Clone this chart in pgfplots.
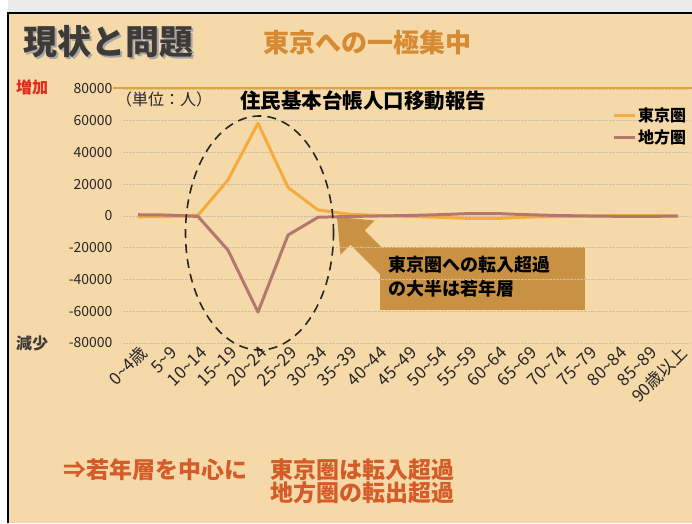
\documentclass[border=0pt]{standalone}
\usepackage{fontspec}
\setmainfont{Noto Sans CJK JP}
\usepackage{pgfplots}
\pgfplotsset{compat=1.18}
\definecolor{bg}{RGB}{246,217,168}
\definecolor{tokyo}{RGB}{245,172,60}
\definecolor{chiho}{RGB}{178,120,110}
\definecolor{titlec}{RGB}{62,58,56}
\definecolor{subc}{RGB}{214,138,50}
\definecolor{redc}{RGB}{225,45,30}
\definecolor{bottomc}{RGB}{212,92,40}
\definecolor{boxc}{RGB}{200,145,68}
\definecolor{gridc}{RGB}{205,190,168}
\definecolor{linec}{RGB}{232,160,70}
\begin{document}
\begin{tikzpicture}
\useasboundingbox (0pt,0pt) rectangle (692pt,523pt);
\fill[white] (0pt,0pt) rectangle (692pt,523pt);
\fill[black!8] (8pt,510pt) rectangle (692pt,523pt);
\fill[bg] (8pt,0pt) rectangle (692pt,510pt);
\draw[black, line width=2pt] (8pt,0pt) -- (8pt,510pt) -- (692pt,510pt);
% titles
\node[anchor=west, text=black!35, font=\bfseries\fontsize{34}{38}\selectfont, inner sep=0pt] at (25pt,479pt) {現状と問題};
\node[anchor=west, text=titlec, font=\bfseries\fontsize{34}{38}\selectfont, inner sep=0pt] at (23pt,481pt) {現状と問題};
\node[anchor=west, text=subc, font=\bfseries\fontsize{26}{30}\selectfont, inner sep=0pt] at (263pt,480pt) {東京への一極集中};
\node[anchor=west, text=redc, font=\bfseries\fontsize{16}{18}\selectfont, inner sep=0pt] at (16pt,436pt) {増加};
\node[anchor=west, text=titlec, font=\bfseries\fontsize{16}{18}\selectfont, inner sep=0pt] at (16pt,180pt) {減少};
\node[anchor=west, text=black!85, font=\fontsize{16}{18}\selectfont, inner sep=0pt] at (116pt,424pt) {（単位：人）};
\node[anchor=west, text=black, font=\bfseries\fontsize{20.5}{23}\selectfont, inner sep=0pt] at (240pt,422pt) {住民基本台帳人口移動報告};
\draw[linec, line width=1.3pt] (113pt,435pt) -- (692pt,435pt);
% arrow and box
\fill[boxc] (393.5pt,235.3pt) -- (407.7pt,249.5pt) -- (364.6pt,292.6pt) -- (374.5pt,302.5pt) -- (337pt,306pt) -- (340.5pt,268.5pt) -- (350.4pt,278.4pt) -- cycle;
\fill[boxc] (380pt,213pt) rectangle (585pt,276pt);
\node[anchor=west, text=black, font=\bfseries\fontsize{18}{20}\selectfont, inner sep=0pt] at (388pt,258pt) {東京圏への転入超過};
\node[anchor=west, text=black, font=\bfseries\fontsize{18}{20}\selectfont, inner sep=0pt] at (388pt,234pt) {の大半は若年層};
% bottom text
\node[anchor=west, text=bottomc, font=\bfseries\fontsize{23}{25}\selectfont, inner sep=0pt] at (63pt,53pt) {⇒若年層を中心に};
\node[anchor=west, text=bottomc, font=\bfseries\fontsize{23}{25}\selectfont, inner sep=0pt] at (270pt,53pt) {東京圏は転入超過};
\node[anchor=west, text=bottomc, font=\bfseries\fontsize{23}{25}\selectfont, inner sep=0pt] at (270pt,30pt) {地方圏の転出超過};
\begin{axis}[
  at={(123pt,180pt)}, anchor=south west, scale only axis,
  width=567pt, height=254pt,
  xmin=-0.5, xmax=18.4, ymin=-80000, ymax=80000,
  scaled y ticks=false,
  ytick={-80000,-60000,-40000,-20000,0,20000,40000,60000,80000},
  xtick={0,1,2,3,4,5,6,7,8,9,10,11,12,13,14,15,16,17,18},
  xticklabels={0\textasciitilde 4歳,5\textasciitilde 9,10\textasciitilde 14,15\textasciitilde 19,20\textasciitilde 24,25\textasciitilde 29,30\textasciitilde 34,35\textasciitilde 39,40\textasciitilde 44,45\textasciitilde 49,50\textasciitilde 54,55\textasciitilde 59,60\textasciitilde 64,65\textasciitilde 69,70\textasciitilde 74,75\textasciitilde 79,80\textasciitilde 84,85\textasciitilde 89,90歳以上},
  xticklabel style={rotate=45, anchor=east, font=\fontsize{17}{19}\selectfont, text=black!85, yshift=-9pt, xshift=3pt},
  yticklabel style={font=\fontsize{14}{16}\selectfont, text=black!85, xshift=-7pt},
  /pgf/number format/assume math mode=true,
  /pgf/number format/1000 sep={},
  axis line style={draw=none},
  major tick length=0pt,
  ymajorgrids, grid style={gridc, densely dotted, line width=0.7pt},
  legend style={at={(0.997,0.935)}, anchor=north east, draw=none, fill=none,
    font=\bfseries\fontsize{16}{18}\selectfont, row sep=3pt, inner sep=0pt},
  legend cell align=left,
  legend image code/.code={\draw[#1, line width=3pt] (0pt,0pt) -- (21pt,0pt);},
  clip=false,
]
\addplot[tokyo, line width=3pt, line join=round] coordinates {
(0,-500) (1,-300) (2,500) (3,22700) (4,58500) (5,18000) (6,3800) (7,1200) (8,300) (9,-200)
(10,-800) (11,-1500) (12,-1500) (13,-700) (14,-300) (15,0) (16,200) (17,200) (18,100)};
\addlegendentry{東京圏}
\addplot[chiho, line width=3pt, line join=round] coordinates {
(0,800) (1,600) (2,-300) (3,-21500) (4,-60500) (5,-12000) (6,-800) (7,-300) (8,0) (9,300)
(10,800) (11,1500) (12,1500) (13,800) (14,300) (15,0) (16,-200) (17,-200) (18,-100)};
\addlegendentry{地方圏}
\draw[black!85, line width=1.6pt, dash pattern=on 9pt off 6pt] (axis cs:4.05,-10700) ellipse [x radius=74pt, y radius=117pt];
\end{axis}
\end{tikzpicture}
\end{document}
